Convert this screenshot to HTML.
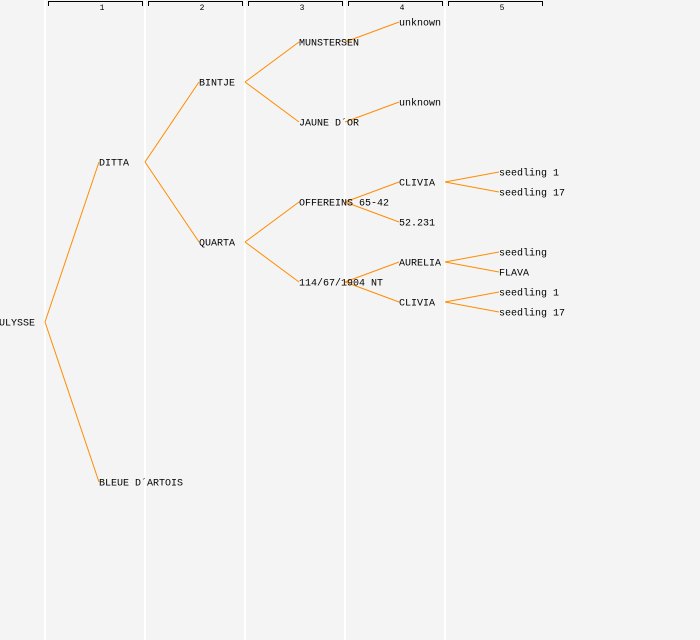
<!DOCTYPE html>
<html><head><style>body{margin:0;background:#f4f4f4}svg{display:block}</style></head><body>
<svg width="700" height="640" xmlns="http://www.w3.org/2000/svg" font-family="Liberation Mono, DejaVu Sans Mono, monospace">
<rect width="700" height="640" fill="#f4f4f4"/>
<g stroke="#ffffff" stroke-width="2">
<line x1="45" y1="0" x2="45" y2="640"/><line x1="145" y1="0" x2="145" y2="640"/><line x1="245" y1="0" x2="245" y2="640"/><line x1="345" y1="0" x2="345" y2="640"/><line x1="445" y1="0" x2="445" y2="640"/>
</g>
<g stroke="#000" fill="none" stroke-width="1">
<path d="M48.5,6V1.5H142.5V6"/><path d="M148.5,6V1.5H242.5V6"/><path d="M248.5,6V1.5H342.5V6"/><path d="M348.5,6V1.5H442.5V6"/><path d="M448.5,6V1.5H542.5V6"/>
</g>
<g font-size="8" text-anchor="middle" fill="#000">
<text x="102" y="10">1</text><text x="202" y="10">2</text><text x="302" y="10">3</text><text x="402" y="10">4</text><text x="502" y="10">5</text>
</g>
<g stroke="#ff8c00" stroke-width="1" fill="none">
<path d="M45,322L99,162M45,322L99,482"/>
<path d="M145,162L199,82M145,162L199,242"/>
<path d="M245,82L299,42M245,82L299,122M245,242L299,202M245,242L299,282"/>
<path d="M345,42L399,22M345,122L399,102M345,202L399,182M345,202L399,222M345,282L399,262M345,282L399,302"/>
<path d="M445,182L499,172M445,182L499,192M445,262L499,252M445,262L499,272M445,302L499,292M445,302L499,312"/>
</g>
<g font-size="10" fill="#000" dominant-baseline="middle">
<text x="-1" y="323">ULYSSE</text>
<text x="99" y="163">DITTA</text><text x="99" y="483">BLEUE D´ARTOIS</text>
<text x="199" y="83">BINTJE</text><text x="199" y="243">QUARTA</text>
<text x="299" y="43">MUNSTERSEN</text><text x="299" y="123">JAUNE D´OR</text><text x="299" y="203">OFFEREINS 65-42</text><text x="299" y="283">114/67/1904 NT</text>
<text x="399" y="23">unknown</text><text x="399" y="103">unknown</text><text x="399" y="183">CLIVIA</text><text x="399" y="223">52.231</text><text x="399" y="263">AURELIA</text><text x="399" y="303">CLIVIA</text>
<text x="499" y="173">seedling 1</text><text x="499" y="193">seedling 17</text><text x="499" y="253">seedling</text><text x="499" y="273">FLAVA</text><text x="499" y="293">seedling 1</text><text x="499" y="313">seedling 17</text>
</g>
</svg>
</body></html>
